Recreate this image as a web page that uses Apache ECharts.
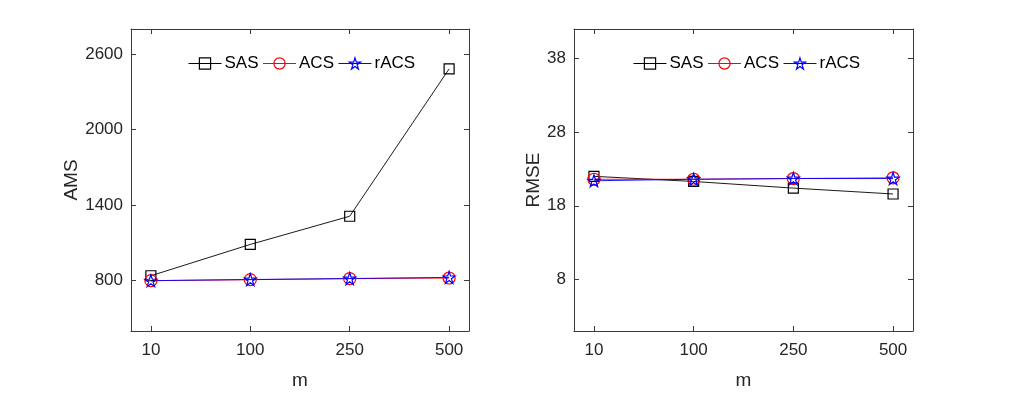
<!DOCTYPE html>
<html>
  <head>
    <meta charset="utf-8" />
    <title>AMS / RMSE vs m</title>
    <script src="https://cdn.jsdelivr.net/npm/echarts@6/dist/echarts.min.js"></script>
  </head>
  <body style="margin:0;background:#fff;">
    <div id="chart" style="width:1010px;height:395px;"></div>
    <script type="text/javascript">
      // values
      var mLabels = ['10', '100', '250', '500'];
      var amsSAS = [839, 1088, 1312, 2483];
      var amsACS = [800, 808, 816, 821];
      var amsRACS = [800, 809, 817, 826];
      var rmseSAS = [22.0, 21.3, 20.4, 19.6];
      var rmseACS = [21.6, 21.6, 21.7, 21.8];
      var rmseRACS = [21.4, 21.6, 21.7, 21.7];
      var amsTicks = [800, 1400, 2000, 2600];
      var rmseTicks = [8, 18, 28, 38];

      var FONT = 'Liberation Sans';
      var TXT = '#262626';
      var BOX = '#3a3a3a';
      var STAR = 'path://M50 0 L61.23 34.55 L97.55 34.55 L68.17 55.9 L79.39 90.45 L50 69.1 L20.61 90.45 L31.83 55.9 L2.45 34.55 L38.77 34.55 Z';
      var xIdx = [0, 1, 2, 3];

      function pairs(vals) {
        return vals.map(function (v, i) { return [i, v]; });
      }

      function xAxes(grid, pos) {
        return {
          type: 'value', gridIndex: grid, position: pos,
          min: -0.2, max: 3.2,
          name: pos === 'bottom' ? 'm' : '',
          nameLocation: 'middle', nameGap: 40,
          nameTextStyle: { fontFamily: FONT, fontSize: 19, color: TXT },
          splitLine: { show: false },
          axisLine: { show: true, onZero: false, lineStyle: { color: BOX, width: 1 } },
          axisTick: { show: true, inside: true, length: 5, customValues: xIdx, lineStyle: { color: BOX } },
          axisLabel: {
            show: pos === 'bottom', customValues: xIdx, margin: 11,
            fontFamily: FONT, fontSize: 17, color: TXT,
            formatter: function (v) { return mLabels[Math.round(v)]; }
          }
        };
      }

      function yAxes(grid, pos, min, max, ticks, name, gap) {
        return {
          type: 'value', gridIndex: grid, position: pos,
          min: min, max: max,
          name: pos === 'left' ? name : '',
          nameLocation: 'middle', nameGap: gap, nameRotate: 90,
          nameTextStyle: { fontFamily: FONT, fontSize: 19, color: TXT },
          splitLine: { show: false },
          axisLine: { show: true, onZero: false, lineStyle: { color: BOX, width: 1 } },
          axisTick: { show: true, inside: true, length: 5, customValues: ticks, lineStyle: { color: BOX } },
          axisLabel: {
            show: pos === 'left', customValues: ticks, margin: 8,
            fontFamily: FONT, fontSize: 17, color: TXT,
            formatter: function (v) { return String(v); }
          }
        };
      }

      function line(name, color, symbol, size, xi, yi, vals) {
        return {
          name: name, type: 'line', xAxisIndex: xi, yAxisIndex: yi,
          data: pairs(vals),
          symbol: symbol, symbolSize: size, showAllSymbol: true,
          lineStyle: { color: color, width: 0.9 },
          itemStyle: { color: 'rgba(255,255,255,0)', borderColor: color, borderWidth: 1.2 },
          emphasis: { disabled: true }
        };
      }

      function legend(left) {
        return {
          left: left, top: 50, orient: 'horizontal',
          itemWidth: 33, itemHeight: 14, itemGap: 4,
          lineStyle: { width: 1 },
          itemStyle: { color: 'rgba(255,255,255,0)', borderWidth: 1.2 },
          data: ['SAS', 'ACS', 'rACS'],
          textStyle: { fontFamily: FONT, fontSize: 17, color: '#000', padding: [0, 0, 0, -2] },
          selectedMode: false
        };
      }

      var chart = echarts.init(document.getElementById('chart'));
      chart.setOption({
        animation: false,
        backgroundColor: '#ffffff',
        grid: [
          { left: 131, top: 29, width: 338, height: 308 },
          { left: 574, top: 29, width: 339, height: 308 }
        ],
        xAxis: [xAxes(0, 'bottom'), xAxes(0, 'top'), xAxes(1, 'bottom'), xAxes(1, 'top')],
        yAxis: [
          yAxes(0, 'left', 400, 2800, amsTicks, 'AMS', 46),
          yAxes(0, 'right', 400, 2800, amsTicks, '', 46),
          yAxes(1, 'left', 1, 42, rmseTicks, 'RMSE', 30),
          yAxes(1, 'right', 1, 42, rmseTicks, '', 30)
        ],
        legend: [legend(183), legend(628)],
        series: [
          line('SAS', '#000000', 'rect', 10, 0, 0, amsSAS),
          line('ACS', '#ff0000', 'circle', 12, 0, 0, amsACS),
          line('rACS', '#0000ff', STAR, 12, 0, 0, amsRACS),
          line('SAS', '#000000', 'rect', 10, 2, 2, rmseSAS),
          line('ACS', '#ff0000', 'circle', 12, 2, 2, rmseACS),
          line('rACS', '#0000ff', STAR, 12, 2, 2, rmseRACS)
        ]
      });
    </script>
  </body>
</html>
